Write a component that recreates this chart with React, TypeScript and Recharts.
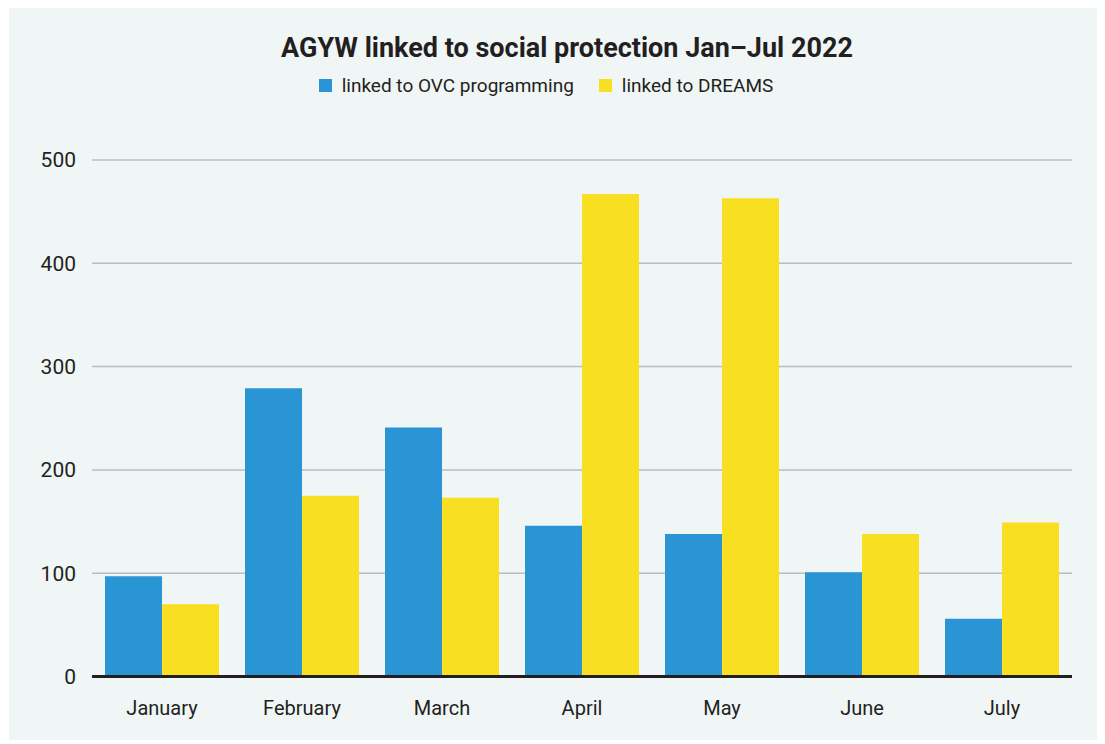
import React from "react";
import { BarChart, Bar, XAxis, YAxis, CartesianGrid } from "recharts";

const months = ["January", "February", "March", "April", "May", "June", "July"];
const ovcValues = [97, 279, 241, 146, 138, 101, 56];
const dreamsValues = [70, 175, 173, 467, 463, 138, 149];
const yTicks = [0, 100, 200, 300, 400, 500];

const seriesNames = { ovc: "linked to OVC programming", dreams: "linked to DREAMS" };
const BLUE = "#2995d4";
const YELLOW = "#f9df22";
const TEXT = "#231f20";

const data = months.map((m, i) => ({ month: m, ovc: ovcValues[i], dreams: dreamsValues[i] }));

const legendItems = [{ c: BLUE, t: seriesNames.ovc }, { c: YELLOW, t: seriesNames.dreams }];

export default function App() {
  return (
    <div style={{ position: "relative", marginLeft: 1, width: 1096, height: 732, background: "#f0f6f6" }}>
      <div style={{ position: "absolute", top: 24, left: 0, width: 1096, textAlign: "center", paddingLeft: 20, boxSizing: "border-box", fontFamily: "Roboto", fontWeight: 700, fontSize: 27, color: TEXT }}>
        AGYW linked to social protection Jan–Jul 2022
      </div>
      <div style={{ position: "absolute", top: 66, left: 0, width: 1096, display: "flex", justifyContent: "center", alignItems: "center", paddingRight: 22, boxSizing: "border-box", fontFamily: "Roboto", fontSize: 19, color: TEXT }}>
        {legendItems.map((it, i) => (
          <div key={i} style={{ display: "flex", alignItems: "center", marginLeft: i ? 25 : 0 }}>
            <span style={{ width: 13, height: 13, background: it.c, display: "inline-block", marginRight: 10 }} />
            <span>{it.t}</span>
          </div>
        ))}
      </div>
      <BarChart width={1096} height={732} data={data} margin={{ top: 152, right: 33, bottom: 6, left: 0 }} barCategoryGap="9.3%" barGap={0}>
        <CartesianGrid vertical={false} stroke="#b9bdbf" strokeWidth={1.5} />
        <XAxis dataKey="month" tickLine={false} axisLine={{ stroke: TEXT, strokeWidth: 3 }} tickSize={6} tickMargin={18} height={57.5}
          tick={{ fill: TEXT, fontSize: 20, fontFamily: "Roboto" }} interval={0} />
        <YAxis domain={[0, 500]} ticks={yTicks} tickLine={false} axisLine={false} width={83} tickSize={6} tickMargin={10}
          tick={{ fill: TEXT, fontSize: 21, fontFamily: "Roboto" }} />
        <Bar dataKey="ovc" name={seriesNames.ovc} fill={BLUE} isAnimationActive={false} />
        <Bar dataKey="dreams" name={seriesNames.dreams} fill={YELLOW} isAnimationActive={false} />
      </BarChart>
    </div>
  );
}
